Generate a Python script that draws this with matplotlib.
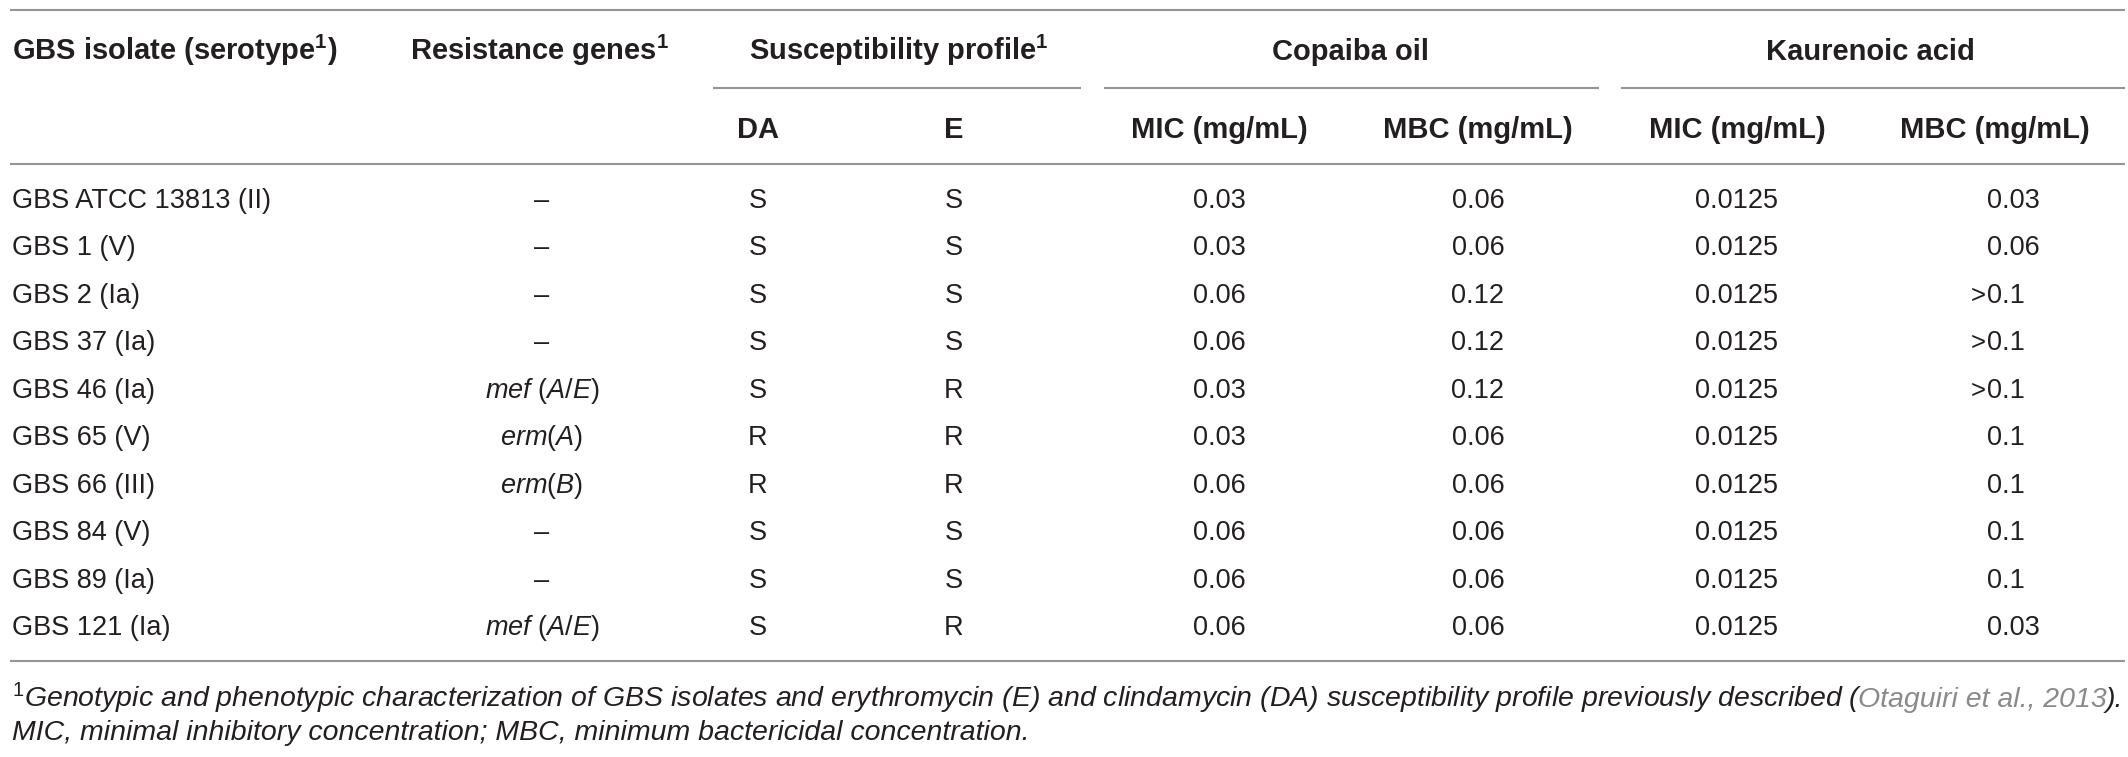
import matplotlib
matplotlib.use("Agg")
import matplotlib.pyplot as plt

plt.rcParams['font.family'] = ['Liberation Sans', 'DejaVu Sans']
plt.rcParams['mathtext.fontset'] = 'custom'
plt.rcParams['mathtext.rm'] = 'Liberation Sans'
plt.rcParams['mathtext.it'] = 'Liberation Sans:italic'
plt.rcParams['mathtext.bf'] = 'Liberation Sans:bold'

# ---------------- data ----------------
isolates = ["GBS ATCC 13813 (II)", "GBS 1 (V)", "GBS 2 (Ia)", "GBS 37 (Ia)", "GBS 46 (Ia)",
            "GBS 65 (V)", "GBS 66 (III)", "GBS 84 (V)", "GBS 89 (Ia)", "GBS 121 (Ia)"]
genes = ["–", "–", "–", "–", "mef (A/E)", "erm(A)", "erm(B)", "–", "–", "mef (A/E)"]
da = ["S", "S", "S", "S", "S", "R", "R", "S", "S", "S"]
ery = ["S", "S", "S", "S", "R", "R", "R", "S", "S", "R"]
copaiba_mic = ["0.03", "0.03", "0.06", "0.06", "0.03", "0.03", "0.06", "0.06", "0.06", "0.06"]
copaiba_mbc = ["0.06", "0.06", "0.12", "0.12", "0.12", "0.06", "0.06", "0.06", "0.06", "0.06"]
kaur_mic = ["0.0125"] * 10
kaur_mbc = ["0.03", "0.06", ">0.1", ">0.1", ">0.1", "0.1", "0.1", "0.1", "0.1", "0.03"]

group_headers = ["Copaiba oil", "Kaurenoic acid"]
sub_headers = ["DA", "E", "MIC (mg/mL)", "MBC (mg/mL)", "MIC (mg/mL)", "MBC (mg/mL)"]
footnote1_a = "Genotypic and phenotypic characterization of GBS isolates and erythromycin (E) and clindamycin (DA) susceptibility profile previously described ("
footnote1_cite = "Otaguiri et al., 2013"
footnote1_b = ")."
footnote2 = "MIC, minimal inhibitory concentration; MBC, minimum bactericidal concentration."

# ---------------- layout ----------------
W, H = 2128, 757
fig = plt.figure(figsize=(W / 100, H / 100), dpi=100)
ax = fig.add_axes([0, 0, 1, 1])
ax.set_xlim(0, W)
ax.set_ylim(H, 0)
ax.axis('off')

TXT = '#231f20'
LINE = '#959595'
LW = 1.5
FS = 19.5
FSB = 21
CAP = 10  # half cap height in px

def hline(x0, x1, y):
    ax.plot([x0, x1], [y, y], color=LINE, lw=LW, solid_capstyle='butt')

def gene_math(s):
    if s == "–":
        return s
    out = []
    buf = ""
    def flush():
        nonlocal buf
        if buf:
            out.append(r"\mathit{" + buf + "}")
            buf = ""
    for ch in s:
        if ch.isalpha() or ch == "/":
            buf += ch
        else:
            flush()
            if ch == " ":
                out.append(r"\ ")
            else:
                out.append(r"\mathrm{" + ch + "}")
    flush()
    return "$" + "".join(out) + "$"

# rules
hline(10, 2125, 10)
hline(713, 1081, 88)
hline(1104, 1599, 88)
hline(1621, 2125, 88)
hline(10, 2125, 164)
hline(10, 2125, 661)

# header row 1
y_h1 = 50 + CAP
ax.text(12, y_h1, r"GBS isolate (serotype$^{\mathbf{1}}$)", fontsize=FSB, fontweight='bold',
        color=TXT, ha='left', va='baseline')
ax.text(540, y_h1, r"Resistance genes$^{\mathbf{1}}$", fontsize=FSB, fontweight='bold',
        color=TXT, ha='center', va='baseline')
ax.text(899, y_h1, r"Susceptibility profile$^{\mathbf{1}}$", fontsize=FSB, fontweight='bold',
        color=TXT, ha='center', va='baseline')
ax.text(1351, y_h1, group_headers[0], fontsize=FSB, fontweight='bold', color=TXT,
        ha='center', va='baseline')
ax.text(1870, y_h1, group_headers[1], fontsize=FSB, fontweight='bold', color=TXT,
        ha='center', va='baseline')

# header row 2
col_x = [758, 954, 1219, 1478, 1737, 1995]
y_h2 = 128 + CAP
for x, s in zip(col_x, sub_headers):
    ax.text(x, y_h2, s, fontsize=FSB, fontweight='bold', color=TXT, ha='center', va='baseline')

# body
y0 = 198
dy = (625 - 198) / 9
gene_x = 542
val_x = [758, 954, 1219, 1478, 1737]
last_left = 1987
for i in range(len(isolates)):
    yb = y0 + i * dy + CAP
    ax.text(12, yb, isolates[i], fontsize=FS, color=TXT, ha='left', va='baseline')
    ax.text(gene_x, yb, gene_math(genes[i]), fontsize=FS, color=TXT, ha='center', va='baseline')
    for x, col in zip(val_x, [da, ery, copaiba_mic, copaiba_mbc, kaur_mic]):
        ax.text(x, yb, col[i], fontsize=FS, color=TXT, ha='center', va='baseline')
    v = kaur_mbc[i]
    if v.startswith(">"):
        ax.text(last_left - 1, yb, ">", fontsize=FS * 0.95, color=TXT, ha='right', va='baseline')
        v = v[1:]
    ax.text(last_left, yb, v, fontsize=FS, color=TXT, ha='left', va='baseline')

# footnote
fig.canvas.draw()
r = fig.canvas.get_renderer()
inv = ax.transData.inverted()

def width_px(t):
    bb = t.get_window_extent(renderer=r)
    return bb.x1 - bb.x0

probe = ax.text(0, 0, r"$^{\mathit{1}}$" + footnote1_a + footnote1_cite + footnote1_b,
                fontsize=FS, style='italic')
target = 2123 - 12
ffs = FS * target / width_px(probe)
probe.remove()

yf1 = 697 + CAP
t1 = ax.text(12, yf1, r"$^{\mathit{1}}$" + footnote1_a, fontsize=ffs, style='italic',
             color=TXT, ha='left', va='baseline')
fig.canvas.draw()
x_end = inv.transform((t1.get_window_extent(renderer=r).x1, 0))[0] - 5
t2 = ax.text(x_end, yf1, footnote1_cite, fontsize=ffs, style='italic', color='#8a8a8a',
             ha='left', va='baseline')
fig.canvas.draw()
x_end2 = inv.transform((t2.get_window_extent(renderer=r).x1, 0))[0] - 1
ax.text(x_end2, yf1, footnote1_b, fontsize=ffs, style='italic', color=TXT,
        ha='left', va='baseline')
ax.text(12, 730 + CAP, footnote2, fontsize=ffs, style='italic', color=TXT,
        ha='left', va='baseline')

fig.savefig("out.png", dpi=100, facecolor='white')
